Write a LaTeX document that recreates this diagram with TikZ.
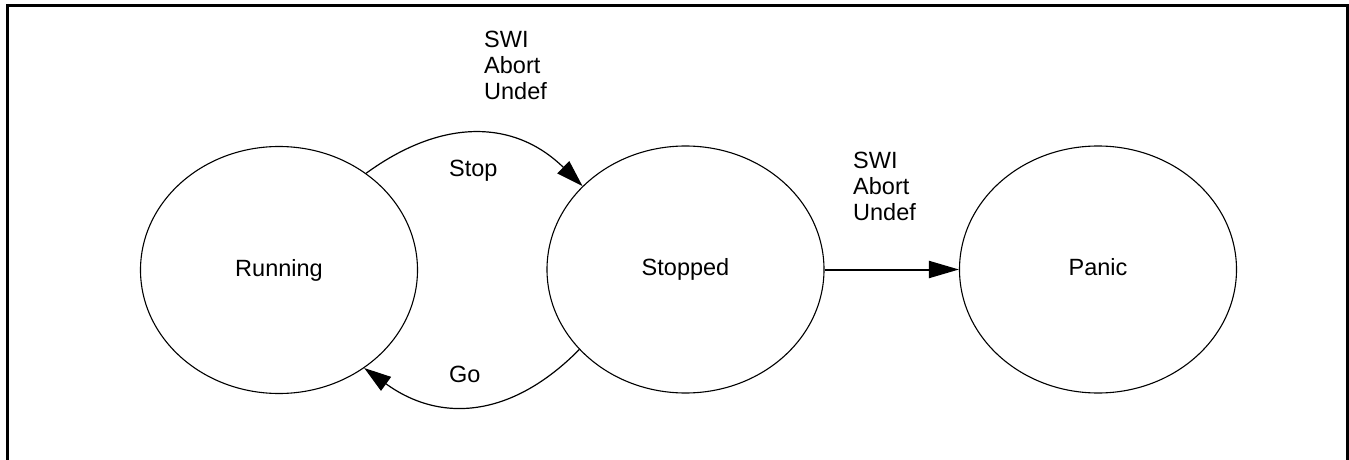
\documentclass[tikz,border=0pt]{standalone}
\usepackage{fontspec}
\setmainfont{Liberation Sans}
\usetikzlibrary{arrows.meta,shapes.geometric}
\begin{document}
\begin{tikzpicture}[x=1pt,y=-1pt,
  state/.style={draw,ellipse,line width=1.1pt,minimum width=277pt,minimum height=247pt,inner sep=0pt,
    text height=17pt,text depth=5pt,font=\fontsize{23.5}{28.2}\selectfont},
  lbl/.style={inner sep=0pt,align=left,font=\fontsize{23.5}{26}\selectfont},
  arc/.style={line width=1.2pt,-{Triangle[length=27pt,width=17pt]}},
  harr/.style={line width=2pt,-{Triangle[length=30pt,width=17pt]}}]
\useasboundingbox (0,0) rectangle (1349,460);
% frame
\draw[line width=3pt] (7.5,460) -- (7.5,5.5) -- (1347.5,5.5) -- (1347.5,460);
% states
\node[state] (run)   at (279,270) {Running};
\node[state] (stop)  at (685.5,269.5) {Stopped};
\node[state] (panic) at (1098,269.5) {Panic};
% transitions
\draw[arc] (run.48.7) .. controls +(76.7,-55.9) and +(-67.8,-66.3) .. (stop.141.8);
\draw[arc] (stop.217.4) .. controls +(-66.8,67.7) and +(77,55.9) .. (run.311.5);
\draw[harr] (stop.east) -- (panic.west);
% labels
\node[lbl,anchor=north west] (l1) at (484,31) {SWI\\Abort\\Undef};
\node[lbl,anchor=base west] (lstop) at (449,176) {Stop};
\node[lbl,anchor=base west] (lgo) at (449,382.7) {Go};
\node[lbl,anchor=north west] (l2) at (853,152) {SWI\\Abort\\Undef};
\end{tikzpicture}
\end{document}
